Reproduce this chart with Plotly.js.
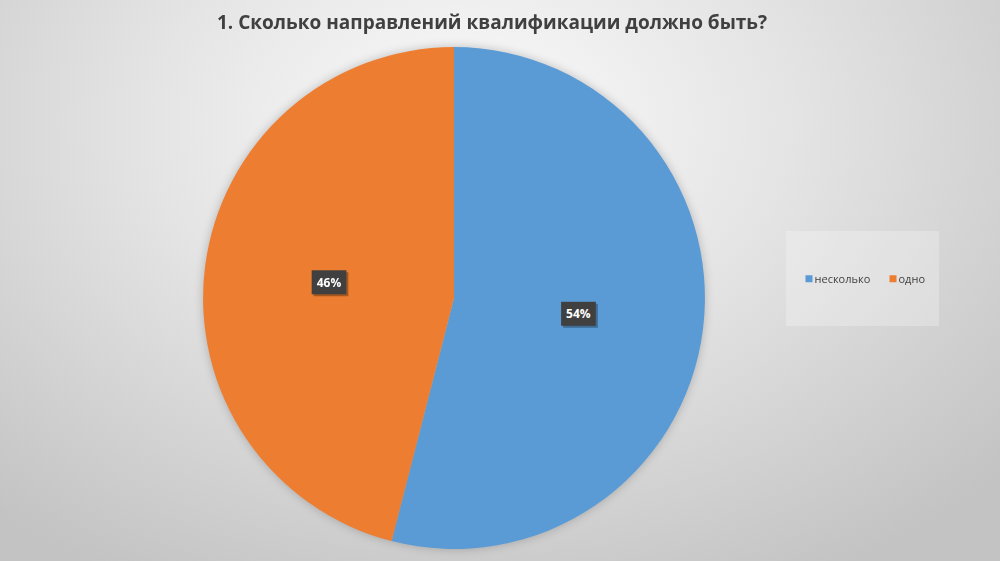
<!DOCTYPE html>
<html><head><meta charset="utf-8">
<script src="https://cdn.plot.ly/plotly-3.0.1.min.js"></script>
<style>
html,body{margin:0;padding:0;width:1000px;height:561px;overflow:hidden;}
body{background:radial-gradient(ellipse 72% 92% at 47% 22%, #fbfbfb 0%, #e4e4e4 45%, #c3c3c3 100%);}
#chart{width:1000px;height:561px;}
.pielayer g.trace{filter:drop-shadow(0px 0px 5px rgba(0,0,0,0.22));}
</style></head><body>
<div id="chart"></div>
<script>
const titleText = "1. Сколько направлений квалификации должно быть?";
const categories = ["несколько", "одно"];
const shares = [54, 46];
const colors = ["#5B9BD5", "#ED7D31"];

const trace = {
  type: "pie",
  labels: categories,
  values: shares,
  sort: false,
  direction: "clockwise",
  rotation: 0,
  marker: {colors: colors, line: {width: 0}},
  textinfo: "percent",
  texttemplate: "%{percent:.0%}",
  textposition: "inside",
  insidetextorientation: "horizontal",
  textfont: {family: "Open Sans", size: 12, color: "#ffffff", weight: "bold"},
  hoverinfo: "label+percent",
  domain: {x: [0.203, 0.705], y: [0.0214, 0.916]}
};

const layout = {
  width: 1000, height: 561,
  margin: {l: 0, r: 0, t: 0, b: 0},
  paper_bgcolor: "rgba(0,0,0,0)",
  plot_bgcolor: "rgba(0,0,0,0)",
  title: {text: "<b>" + titleText + "</b>", x: 0.492, xanchor: "center", y: 0.96, yanchor: "middle",
          font: {family: "Open Sans", size: 19, color: "#404040"}},
  showlegend: true,
  legend: {orientation: "h", x: 0.8585, xanchor: "center", y: 0.504, yanchor: "middle",
           bgcolor: "rgba(0,0,0,0)", font: {family: "Open Sans", size: 11, color: "#404040"},
           itemwidth: 30, entrywidth: 39, tracegroupgap: 0},
  shapes: [{type: "rect", xref: "paper", yref: "paper", x0: 0.786, x1: 0.939, y0: 1 - 326/561, y1: 1 - 231/561,
            fillcolor: "rgba(255,255,255,0.25)", line: {width: 0}, layer: "below"}]
};

Plotly.newPlot("chart", [trace], layout, {displayModeBar: false, staticPlot: true}).then(function(gd){
  const NS = "http://www.w3.org/2000/svg";
  // label boxes behind the library's own slice text
  gd.querySelectorAll("g.slice").forEach(function(sl){
    const t = sl.querySelector("text.slicetext");
    if (!t) return;
    const bb = t.getBBox();
    const tr = t.getAttribute("transform") || "";
    const padX = 5, padY = 3.5;
    const mk = function(dx, fill){
      const r = document.createElementNS(NS, "rect");
      r.setAttribute("x", bb.x - padX + dx); r.setAttribute("y", bb.y - padY + dx);
      r.setAttribute("width", bb.width + 2*padX); r.setAttribute("height", bb.height + 2*padY);
      r.setAttribute("fill", fill); r.setAttribute("transform", tr);
      t.parentNode.insertBefore(r, t);
    };
    mk(2, "rgba(0,0,0,0.3)");
    mk(0, "#404040");
  });
  // legend symbols: small squares just before the text
  gd.querySelectorAll("g.legend g.traces").forEach(function(g){
    const pts = g.querySelector("g.legendpoints");
    const txt = g.querySelector("text.legendtext");
    if (!pts || !txt) return;
    const pb = pts.getBBox();
    const tb = txt.getBBox();
    const s = 7 / pb.width;
    const cx0 = pb.x + pb.width/2, cy0 = pb.y + pb.height/2;
    const cx1 = tb.x - 5.5;
    pts.setAttribute("transform", "translate(" + cx1 + "," + (cy0 + 0.5) + ") scale(" + s + ") translate(" + (-cx0) + "," + (-cy0) + ")");
  });
});
</script>
</body></html>
